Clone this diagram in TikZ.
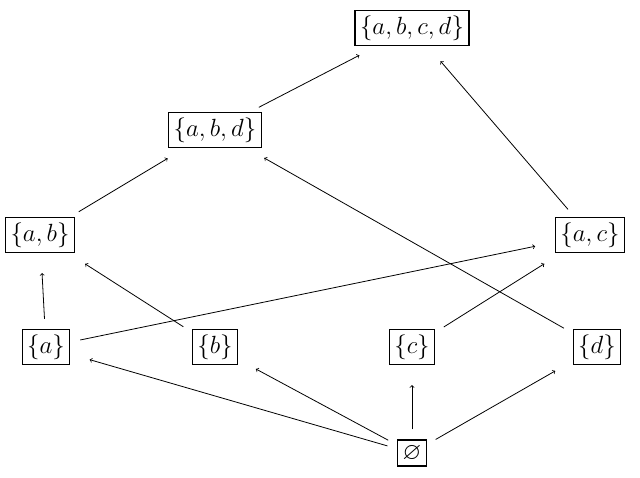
\documentclass[tikz,border=0pt]{standalone}
\usepackage{amssymb}
\begin{document}
\begin{tikzpicture}[x=1pt,y=-1pt,
  setbox/.style={draw,line width=1.3pt,inner sep=5pt,font=\fontsize{24}{28}\selectfont},
  edge/.style={->,line width=0.8pt,shorten >=20pt,shorten <=10pt}]
\useasboundingbox (0,0) rectangle (640,477);
\node[setbox] (abcd) at (412,28) {$\{a,b,c,d\}$};
\node[setbox] (abd) at (215,130) {$\{a,b,d\}$};
\node[setbox] (ab) at (40,235) {$\{a,b\}$};
\node[setbox] (ac) at (590,235) {$\{a,c\}$};
\node[setbox] (a) at (46,347) {$\{a\}$};
\node[setbox] (b) at (215,347) {$\{b\}$};
\node[setbox] (c) at (412,347) {$\{c\}$};
\node[setbox] (d) at (597,347) {$\{d\}$};
\node[setbox] (e) at (412,453) {$\varnothing$};
\draw[edge] (e) -- (a);
\draw[edge] (e) -- (b);
\draw[edge] (e) -- (c);
\draw[edge] (e) -- (d);
\draw[edge] (a) -- (ab);
\draw[edge] (b) -- (ab);
\draw[edge] (a) -- (ac);
\draw[edge] (c) -- (ac);
\draw[edge] (d) -- (abd);
\draw[edge] (ab) -- (abd);
\draw[edge] (abd) -- (abcd);
\draw[edge] (ac) -- (abcd);
\end{tikzpicture}
\end{document}
